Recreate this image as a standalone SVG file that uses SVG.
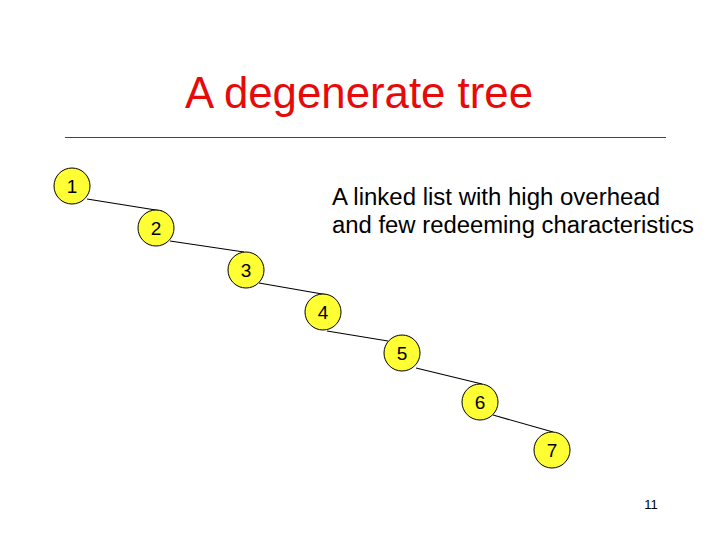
<svg xmlns="http://www.w3.org/2000/svg" width="720" height="540" viewBox="0 0 720 540">
<style>
.n{fill:#ffff33;stroke:#000;stroke-width:1}
.t{font-family:"Liberation Sans",Arial,sans-serif;font-size:19px;fill:#000;text-anchor:middle}
.e{stroke:#000;stroke-width:1.2;fill:none}
.b{font-family:"Liberation Sans",Arial,sans-serif;font-size:23px;fill:#000}
</style>
<rect width="720" height="540" fill="#fff"/>
<text x="359" y="108" font-family="Liberation Sans,Arial,sans-serif" font-size="43.5" fill="#e60a0a" text-anchor="middle" textLength="348" lengthAdjust="spacingAndGlyphs">A degenerate tree</text>
<line x1="65" y1="137.5" x2="666" y2="137.5" stroke="#444" stroke-width="1"/>
<text class="b" x="332" y="205" textLength="328" lengthAdjust="spacingAndGlyphs">A linked list with high overhead</text>
<text class="b" x="332" y="233" textLength="362" lengthAdjust="spacingAndGlyphs">and few redeeming characteristics</text>
<g id="edges">
<line class="e" x1="87" y1="199" x2="162" y2="211"/>
<line class="e" x1="170" y1="241" x2="244" y2="252"/>
<line class="e" x1="259" y1="283" x2="328" y2="295"/>
<line class="e" x1="327" y1="331" x2="388" y2="341"/>
<line class="e" x1="416" y1="368" x2="482" y2="384"/>
<line class="e" x1="493" y1="415" x2="553" y2="432"/>
</g>
<g id="node1"><circle class="n" cx="72" cy="186" r="18"/><text class="t" x="72" y="193">1</text></g>
<g id="node2"><circle class="n" cx="156" cy="228" r="18"/><text class="t" x="156" y="235">2</text></g>
<g id="node3"><circle class="n" cx="246" cy="270" r="18"/><text class="t" x="246" y="277">3</text></g>
<g id="node4"><circle class="n" cx="323" cy="312" r="18"/><text class="t" x="323" y="319">4</text></g>
<g id="node5"><circle class="n" cx="402" cy="353" r="18"/><text class="t" x="402" y="360">5</text></g>
<g id="node6"><circle class="n" cx="480" cy="402" r="18"/><text class="t" x="480" y="409">6</text></g>
<g id="node7"><circle class="n" cx="552" cy="450" r="18"/><text class="t" x="552" y="457">7</text></g>
<text x="651" y="509" font-family="Liberation Sans,Arial,sans-serif" font-size="13" fill="#000" text-anchor="middle">11</text>
</svg>
